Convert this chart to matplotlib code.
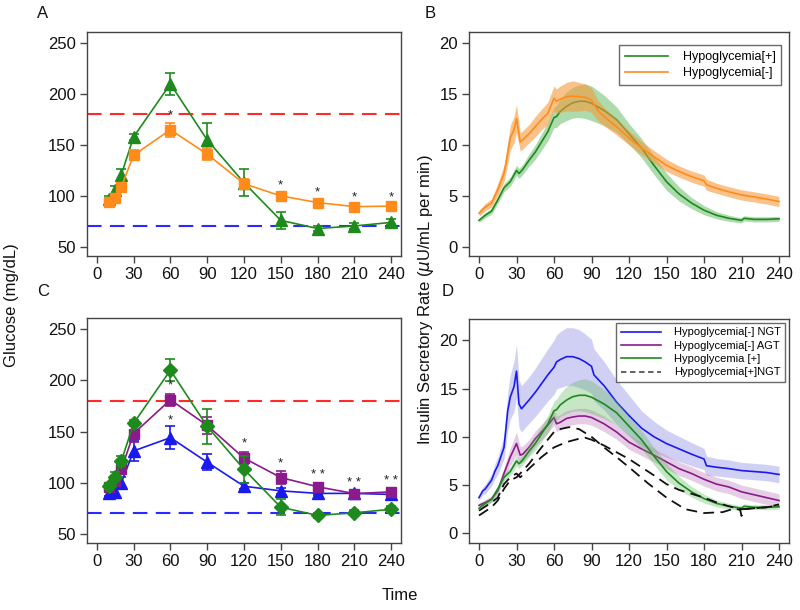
import matplotlib
matplotlib.use("Agg")
import matplotlib.pyplot as plt
from matplotlib.lines import Line2D
import numpy as np

plt.rcParams['font.family'] = ['Liberation Sans', 'DejaVu Sans']

# ---------------- Glucose data (panels A and C) ----------------
glu_times = [10, 15, 20, 30, 60, 90, 120, 150, 180, 210, 240]

hypo_pos = [97, 106, 121, 158, 210, 155, 113, 76, 68, 70.5, 74]
hypo_pos_err = [3, 4, 5, 3, 10.5, 17, 13.5, 8, 2.5, 2.5, 3]

hypo_neg = [94, 97.5, 109, 140, 165, 141, 112, 100, 93.5, 89.5, 90]
hypo_neg_err = [3, 3, 4, 5, 7, 6, 5, 3, 2.5, 2, 2]

hypo_neg_agt = [96, 102, 113, 148, 181, 156, 124, 105, 96, 89.3, 91]
hypo_neg_agt_err = [3, 4, 5, 8, 6, 8, 6, 6, 3, 2, 3]

hypo_neg_ngt = [89.5, 91, 100, 131, 144, 120, 96.5, 92, 89.5, 89.5, 88.5]
hypo_neg_ngt_err = [3, 5, 6, 10, 11, 8, 3, 3, 2, 2, 2]

stars_A_times = [60, 150, 180, 210, 240]
stars_A_labels = ['*', '*', '*', '*', '*']
stars_C_agt_times = [60, 120, 150, 180, 210, 240]
stars_C_agt_labels = ['*', '*', '*', '* *', '* *', '* *']
stars_C_ngt_times = [60]
stars_C_ngt_labels = ['*']

hyper_line = 180
hypo_line = 70

# ---------------- Insulin secretory rate (panels B and D) ----------------
isr_pos_t = [0, 5, 10, 15, 20, 25, 30, 32, 35, 40, 45, 50, 55, 60, 62, 65, 70, 75, 80, 85, 90,
             100, 110, 120, 130, 140, 150, 160, 170, 180, 190, 200, 210, 212, 220, 230, 240]
isr_pos = [2.6, 3.1, 3.5, 4.6, 5.8, 6.4, 7.5, 7.2, 7.6, 8.5, 9.3, 10.3, 11.3, 12.7, 12.8, 13.3, 13.8,
           14.15, 14.3, 14.3, 14.1, 13.4, 12.5, 11.1, 9.7, 8.0, 6.4, 5.2, 4.3, 3.6, 3.1, 2.8, 2.6,
           2.8, 2.7, 2.7, 2.75]
isr_pos_hw = [0.2, 0.25, 0.3, 0.35, 0.4, 0.45, 0.5, 0.5, 0.5, 0.6, 0.7, 0.8, 0.9, 1.0, 1.1, 1.2, 1.4,
              1.5, 1.6, 1.7, 1.7, 1.5, 1.25, 1.0, 0.95, 0.9, 0.85, 0.7, 0.55, 0.45, 0.35, 0.3, 0.25,
              0.25, 0.25, 0.25, 0.25]

isr_neg_t = [0, 5, 10, 15, 20, 22, 25, 28, 30, 33, 35, 40, 45, 50, 55, 60, 62, 65, 70, 75, 80, 85,
             90, 95, 100, 110, 120, 130, 140, 150, 160, 170, 180, 182, 190, 200, 210, 220, 230, 240]
isr_neg = [3.3, 3.9, 4.3, 5.6, 7.2, 8.5, 10.7, 11.5, 12.6, 10.3, 10.5, 11.1, 11.8, 12.5, 13.1, 14.6,
           14.3, 14.5, 14.75, 14.8, 14.75, 14.7, 14.4, 13.4, 12.8, 11.8, 10.7, 9.7, 8.85, 8.0, 7.4,
           6.9, 6.5, 6.1, 5.75, 5.4, 5.1, 4.9, 4.7, 4.45]
isr_neg_hw = [0.3, 0.35, 0.4, 0.6, 0.8, 1.0, 1.2, 1.3, 1.4, 0.9, 0.9, 0.9, 1.0, 1.0, 1.1, 1.2, 1.2,
              1.3, 1.4, 1.5, 1.4, 1.3, 1.2, 1.0, 0.9, 0.8, 0.7, 0.65, 0.6, 0.6, 0.55, 0.55, 0.55,
              0.55, 0.5, 0.5, 0.5, 0.5, 0.5, 0.5]

isr_ngt_t = [0, 3, 5, 10, 13, 15, 20, 23, 25, 28, 30, 32, 34, 40, 45, 50, 55, 60, 62, 65, 70, 75,
             80, 85, 90, 92, 100, 110, 120, 130, 140, 150, 160, 170, 180, 182, 190, 200, 210, 220,
             230, 240]
isr_ngt = [3.7, 4.4, 4.6, 5.5, 6.5, 7.0, 8.9, 12.7, 14.1, 15.2, 16.8, 13.4, 12.9, 13.8, 14.6, 15.5,
           16.4, 17.2, 17.75, 18.0, 18.3, 18.3, 18.1, 17.75, 17.3, 16.4, 15.3, 13.6, 12.2, 10.9,
           10.0, 9.3, 8.75, 8.2, 7.7, 7.0, 6.85, 6.7, 6.5, 6.4, 6.3, 6.1]
isr_ngt_hw = [0.3, 0.4, 0.5, 0.6, 0.8, 0.9, 1.2, 2.0, 2.3, 2.6, 2.8, 2.5, 2.4, 2.4, 2.5, 2.6, 2.7,
              2.8, 2.8, 2.9, 3.0, 3.0, 3.0, 2.9, 2.8, 2.7, 2.5, 2.3, 2.1, 1.8, 1.6, 1.4, 1.3, 1.2,
              1.1, 1.0, 0.9, 0.9, 0.85, 0.85, 0.85, 0.85]

isr_agt_t = [0, 5, 10, 15, 20, 25, 30, 33, 35, 40, 45, 50, 55, 60, 62, 65, 70, 75, 80, 85, 90, 100,
             110, 120, 130, 140, 150, 160, 170, 180, 182, 190, 200, 210, 220, 230, 240]
isr_agt = [2.9, 3.2, 3.55, 4.4, 6.2, 7.9, 9.3, 8.1, 8.2, 8.9, 9.8, 10.5, 11.2, 12.0, 11.35, 11.5,
           11.9, 12.05, 12.15, 12.15, 12.0, 11.35, 10.5, 9.45, 8.75, 8.1, 7.4, 6.7, 6.2, 5.6, 5.5,
           5.1, 4.8, 4.3, 4.0, 3.7, 3.4]
isr_agt_hw = [0.25, 0.3, 0.35, 0.45, 0.6, 0.9, 1.2, 0.9, 0.85, 0.8, 0.8, 0.8, 0.8, 0.8, 0.8, 0.8,
              0.8, 0.8, 0.8, 0.8, 0.8, 0.8, 0.75, 0.75, 0.7, 0.7, 0.7, 0.7, 0.7, 0.7, 0.7, 0.7, 0.7,
              0.7, 0.7, 0.7, 0.7]

isr_pos_ngt_a_t = [0, 10, 15, 20, 25, 30, 33, 40, 50, 60, 65, 72, 80, 90, 100, 110, 120, 135, 150,
                   165, 180, 195, 205, 209, 210, 212, 220, 230, 240]
isr_pos_ngt_a = [1.85, 2.7, 3.4, 4.6, 5.5, 5.8, 6.2, 7.2, 8.9, 10.5, 10.8, 11.0, 10.8, 10.0, 8.9,
                 7.9, 6.85, 5.2, 3.7, 2.5, 2.1, 2.2, 2.6, 2.4, 1.8, 2.5, 2.6, 2.7, 2.9]
isr_pos_ngt_b_t = [0, 10, 15, 20, 25, 30, 33, 40, 50, 60, 70, 80, 85, 90, 100, 110, 120, 130, 140,
                   150, 160, 170, 180, 190, 200, 210, 220, 230, 240]
isr_pos_ngt_b = [2.35, 3.2, 3.7, 5.1, 5.8, 6.2, 5.8, 6.7, 7.9, 8.9, 9.45, 9.8, 9.9, 9.7, 9.1, 8.4,
                 7.7, 6.85, 6.0, 5.1, 4.5, 4.1, 3.7, 3.2, 2.8, 2.5, 2.6, 2.7, 3.0]

x_ticks = [0, 30, 60, 90, 120, 150, 180, 210, 240]

# ---------------- colours ----------------
GREEN = '#1e8a1e'
ORANGE = '#ff8c1a'
PURPLE = '#8b1a8b'
BLUE = '#1a1aee'
FRAME = '#444444'

fig = plt.figure(figsize=(8, 6.1), dpi=100)
W, H = 800, 610


def add_ax(l, t, r, b):
    return fig.add_axes([l / W, 1 - b / H, (r - l) / W, (b - t) / H])


axA = add_ax(87, 32, 401, 256)
axB = add_ax(469, 32, 789, 256)
axC = add_ax(87, 318, 401, 543)
axD = add_ax(469, 319, 789, 543)


def style(ax, ylim, yticks):
    ax.set_xlim(-8, 248)
    ax.set_ylim(*ylim)
    ax.set_xticks(x_ticks)
    ax.set_yticks(yticks)
    for s in ax.spines.values():
        s.set_color(FRAME)
        s.set_linewidth(1.0)
    ax.tick_params(direction='out', length=5, width=1, color=FRAME, labelsize=12,
                   labelcolor='#111111', pad=3)


def glucose_series(ax, y, err, color, marker, ms, z):
    ax.errorbar(glu_times, y, yerr=err, color=color, marker=marker, markersize=ms, lw=1.2,
                elinewidth=1.2, capsize=3.5, capthick=1.2, zorder=z)


def stars(ax, times, labels, vals, errs, off):
    for t, lab in zip(times, labels):
        i = glu_times.index(t)
        ax.text(t, vals[i] + errs[i] + off, lab, ha='center', va='center', fontsize=9.5,
                color='#222222', zorder=10)


# Panel A
style(axA, (41, 261), [50, 100, 150, 200, 250])
axA.axhline(hyper_line, color='#ff2a2a', lw=1.5, dashes=(7, 4), zorder=1)
axA.axhline(hypo_line, color='#2a2aff', lw=1.5, dashes=(7, 4), zorder=1)
glucose_series(axA, hypo_pos, hypo_pos_err, GREEN, '^', 8, 3)
glucose_series(axA, hypo_neg, hypo_neg_err, ORANGE, 's', 7, 4)
stars(axA, stars_A_times, stars_A_labels, hypo_neg, hypo_neg_err, 7)

# Panel C
style(axC, (41, 261), [50, 100, 150, 200, 250])
axC.axhline(hyper_line, color='#ff2a2a', lw=1.5, dashes=(7, 4), zorder=1)
axC.axhline(hypo_line, color='#2a2aff', lw=1.5, dashes=(7, 4), zorder=1)
glucose_series(axC, hypo_neg_ngt, hypo_neg_ngt_err, BLUE, '^', 8, 3)
glucose_series(axC, hypo_neg_agt, hypo_neg_agt_err, PURPLE, 's', 7, 4)
glucose_series(axC, hypo_pos, hypo_pos_err, GREEN, 'D', 7, 5)
stars(axC, stars_C_agt_times, stars_C_agt_labels, hypo_neg_agt, hypo_neg_agt_err, 8)
stars(axC, stars_C_ngt_times, stars_C_ngt_labels, hypo_neg_ngt, hypo_neg_ngt_err, 6)


def band(ax, t, v, hw, color, fc, alpha, label, z):
    v = np.array(v)
    hw = np.array(hw)
    ax.fill_between(t, v - hw, v + hw, color=fc, alpha=alpha, lw=0, zorder=z)
    ax.plot(t, v, color=color, lw=1.2, label=label, zorder=z + 0.5)


# Panel B
style(axB, (-0.9, 21.1), [0, 5, 10, 15, 20])
band(axB, isr_pos_t, isr_pos, isr_pos_hw, GREEN, '#5cb85c', 0.5, 'Hypoglycemia[+]', 2)
band(axB, isr_neg_t, isr_neg, isr_neg_hw, ORANGE, '#f59a3c', 0.6, 'Hypoglycemia[-]', 3)
legB = axB.legend(loc='upper right', bbox_to_anchor=(0.975, 0.94), fontsize=9,
                  handlelength=3.4, frameon=True, fancybox=False, borderpad=0.45,
                  labelspacing=0.35, handletextpad=1.2, borderaxespad=0.0)
legB.get_frame().set_edgecolor(FRAME)
legB.get_frame().set_linewidth(1.0)

# Panel D
style(axD, (-1.0, 22.2), [0, 5, 10, 15, 20])
band(axD, isr_ngt_t, isr_ngt, isr_ngt_hw, BLUE, '#b8b8f0', 0.65, 'Hypoglycemia[-] NGT', 2)
band(axD, isr_agt_t, isr_agt, isr_agt_hw, PURPLE, '#c890c8', 0.45, 'Hypoglycemia[-] AGT', 3)
band(axD, isr_pos_t, isr_pos, isr_pos_hw, GREEN, '#5cb85c', 0.35, 'Hypoglycemia [+]', 4)
axD.plot(isr_pos_ngt_a_t, isr_pos_ngt_a, color='#111111', lw=1.3, dashes=(6, 3.5), zorder=6)
axD.plot(isr_pos_ngt_b_t, isr_pos_ngt_b, color='#111111', lw=1.3, dashes=(6, 3.5), zorder=6)
hD, lD = axD.get_legend_handles_labels()
hD.append(Line2D([], [], color='#555555', lw=1.3, dashes=(3, 2)))
lD.append('Hypoglycemia[+]NGT')
legD = axD.legend(hD, lD, loc='upper right', bbox_to_anchor=(0.988, 0.982), fontsize=8,
                  handlelength=3.6, frameon=True, fancybox=False, borderpad=0.4,
                  labelspacing=0.3, handletextpad=1.2, borderaxespad=0.0)
legD.get_frame().set_edgecolor(FRAME)
legD.get_frame().set_linewidth(1.0)

# Panel letters and shared labels
for txt, x, y in [('A', 43, 14), ('B', 430, 13), ('C', 43, 291), ('D', 448, 291)]:
    fig.text(x / W, 1 - y / H, txt, fontsize=12, ha='center', va='center', color='#111111')

fig.text(12 / W, 1 - 305 / H, 'Glucose (mg/dL)', rotation=90, fontsize=12,
         ha='center', va='center', color='#111111')
fig.text(426 / W, 1 - 300 / H, 'Insulin Secretory Rate ($\\mu$U/mL per min)', rotation=90,
         fontsize=12, ha='center', va='center', color='#111111')
fig.text(400 / W, 1 - 595 / H, 'Time', fontsize=12, ha='center', va='center',
         color='#111111')

fig.savefig('out.png', dpi=100)
